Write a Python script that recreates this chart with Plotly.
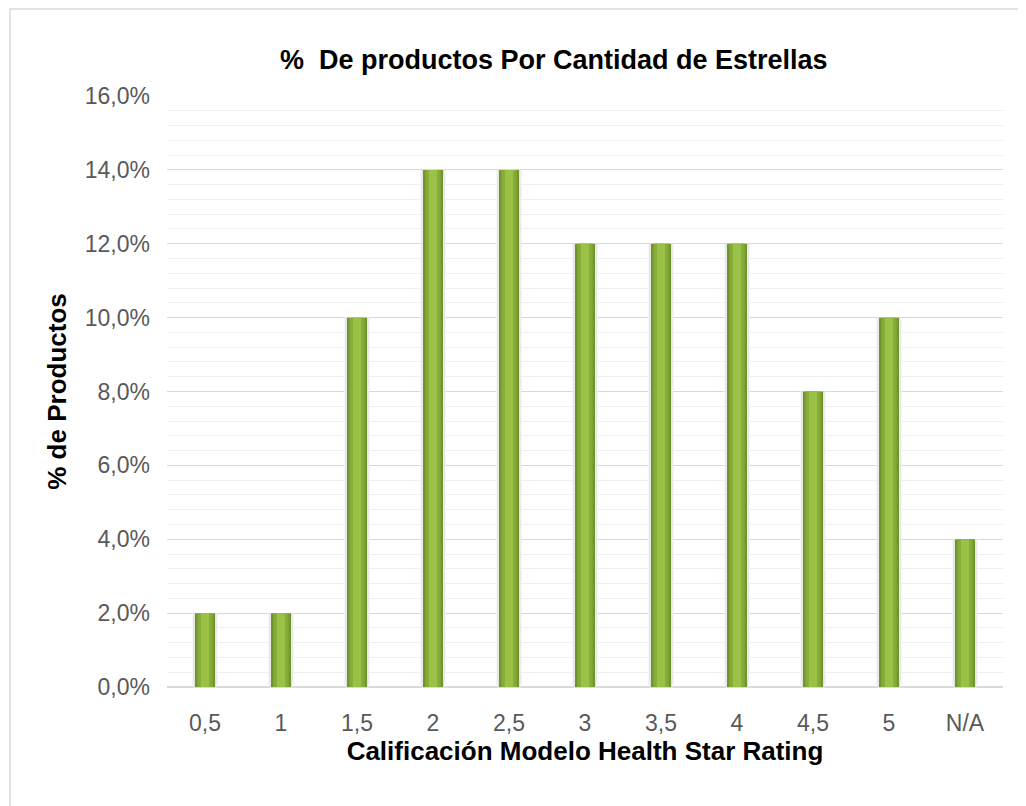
import plotly.graph_objects as go

categories = ["0,5", "1", "1,5", "2", "2,5", "3", "3,5", "4", "4,5", "5", "N/A"]
values = [0.02, 0.02, 0.10, 0.14, 0.14, 0.12, 0.12, 0.12, 0.08, 0.10, 0.04]

W, H = 1026, 806
OFF = 8  # page body margin
L, R, T, B = 167 - OFF, 23 + OFF, 96 - OFF, 119 + OFF
pw, ph = W - L - R, H - T - B

fig = go.Figure()
fig.add_trace(go.Bar(x=categories, y=values, width=0.33, marker=dict(color="#ececec", line=dict(width=0)),
                     hoverinfo="skip", showlegend=False))
fig.add_trace(go.Bar(x=categories, y=values, width=0.265, marker=dict(color="#739530", line=dict(width=0)),
                     showlegend=False))
fig.add_trace(go.Bar(x=categories, y=values, width=0.2, marker=dict(color="#86ab38", line=dict(width=0)),
                     hoverinfo="skip", showlegend=False))
fig.add_trace(go.Bar(x=categories, y=values, width=0.11, marker=dict(color="#9ac246", line=dict(width=0)),
                     hoverinfo="skip", showlegend=False))

def px_x(px):
    return (px - OFF - L) / pw

def px_y(py):
    return (H - B - (py - OFF)) / ph

fig.update_layout(
    width=W, height=H,
    margin=dict(l=L, r=R, t=T, b=B),
    paper_bgcolor="white", plot_bgcolor="white",
    barmode="overlay",
    separators=",.",
    font=dict(family="Liberation Sans, Arial, sans-serif", color="#595959"),
    xaxis=dict(type="category", tickfont=dict(size=23, color="#595959"), showgrid=False,
               ticks="", showline=False, range=[-0.5, 10.5], ticklabelstandoff=20,
               title=dict(text="<b>Calificación Modelo Health Star Rating</b>",
                          font=dict(size=26, color="#000000"), standoff=6)),
    yaxis=dict(range=[0, 0.16], dtick=0.02, tickformat=".1%", tickfont=dict(size=23, color="#595959"),
               showgrid=True, gridcolor="#d9d9d9", gridwidth=1.3,
               minor=dict(dtick=0.004, showgrid=True, gridcolor="#efefef", gridwidth=1.3),
               zeroline=True, zerolinecolor="#d9d9d9", zerolinewidth=1.5,
               ticks="", ticklabelstandoff=16,
               title=dict(text="<b>% de Productos</b>", font=dict(size=26, color="#000000"), standoff=10)),
    annotations=[dict(text="<b>%  De productos Por Cantidad de Estrellas</b>", x=px_x(554),
                      y=px_y(60), xref="paper", yref="paper", showarrow=False,
                      font=dict(size=27, color="#000000"), xanchor="center", yanchor="middle")],
    shapes=[dict(type="rect", xref="paper", yref="paper",
                 x0=px_x(10), x1=px_x(1060),
                 y0=px_y(840), y1=px_y(9),
                 line=dict(color="#d9d9d9", width=1.5), fillcolor="rgba(0,0,0,0)", layer="below")],
)

fig.write_html("out.html")
